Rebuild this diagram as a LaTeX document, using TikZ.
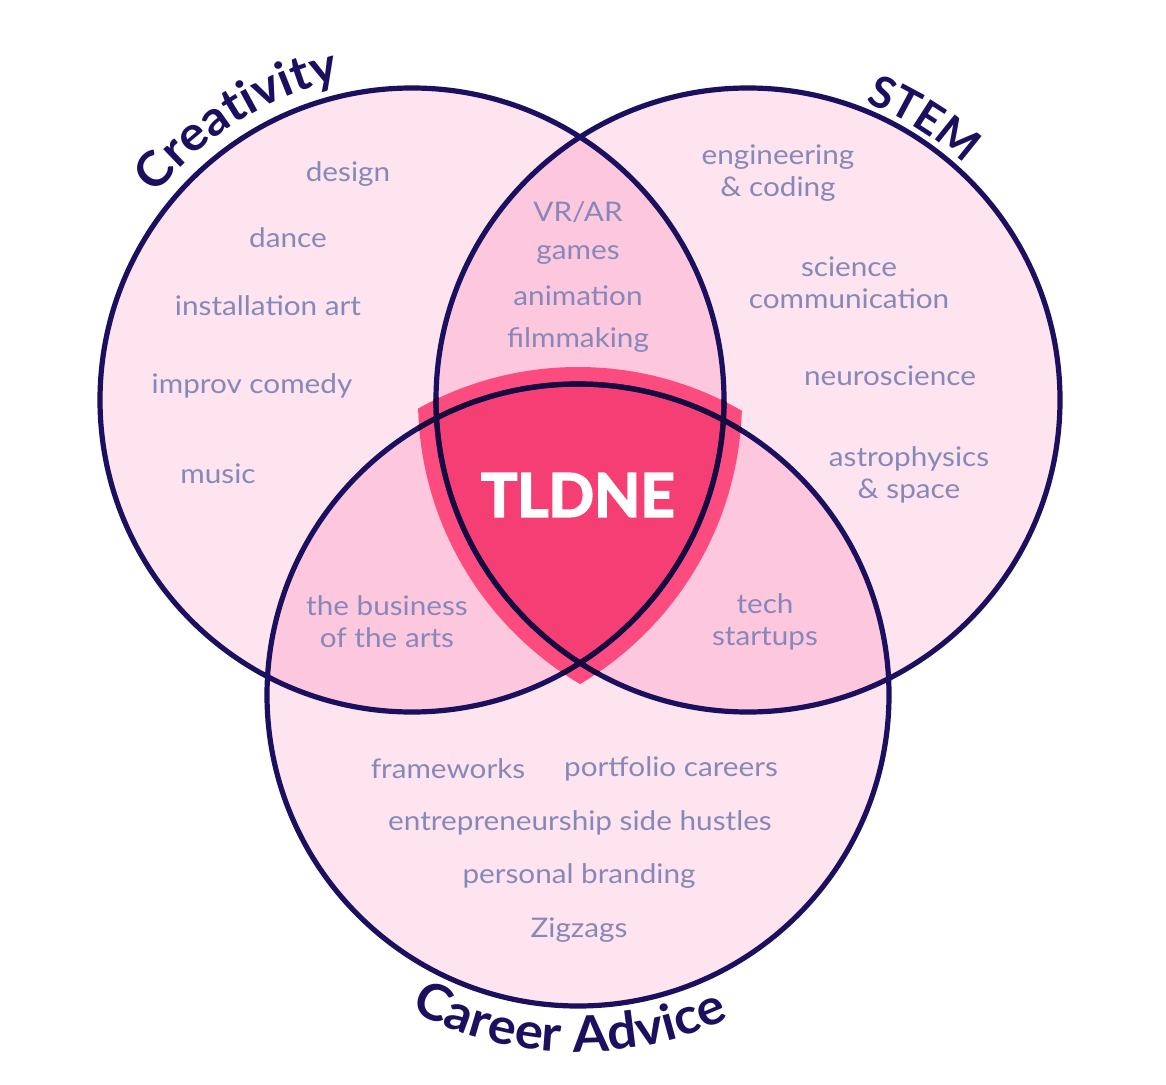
\documentclass[tikz,border=0pt]{standalone}
\usepackage{fontspec}
\setmainfont{Lato}
\newfontfamily\itemfam{Lato}[FakeStretch=1.1]
\newfontfamily\ttlfam{Lato}[FakeStretch=1.05]
\newfontfamily\heavyfam{Lato}[BoldFeatures={FakeBold=3}]
\usetikzlibrary{decorations.text}
\definecolor{navy}{HTML}{1B1060}
\definecolor{darknavy}{HTML}{160B40}
\definecolor{lightpink}{HTML}{FDE4EF}
\definecolor{midpink}{HTML}{FDC8DD}
\definecolor{bandred}{HTML}{FC4C7F}
\definecolor{innerred}{HTML}{F43E74}
\definecolor{itemcol}{HTML}{8788BA}
\newcommand{\itemfont}{\itemfam\fontsize{13.5}{16}\selectfont}
\newcommand{\ttlfont}{\ttlfam\fontsize{24}{28}\selectfont\bfseries}
\newcommand{\bigttlfont}{\ttlfam\fontsize{25}{28}\selectfont\bfseries}
\newcommand{\stemfont}{\fontsize{22}{26}\selectfont\bfseries}
\begin{document}
\begin{tikzpicture}[x=0.5pt,y=0.5pt,
  ring/.style={draw=navy,line width=2.6pt,circle,inner sep=0pt},
  item/.style={text=itemcol,font=\itemfont,inner sep=0pt,align=center},
  ttl/.style 2 args={decorate,decoration={text along path,text align=center,
     text={|\color{navy}#1|#2}}}]
\useasboundingbox (0,0) rectangle (1166,1084);
% base fills
\fill[lightpink] (412,684) circle (312);
\fill[lightpink] (748,684) circle (312);
\fill[lightpink] (578,389) circle (311);
% pairwise overlaps
\begin{scope}\clip (412,684) circle (312); \fill[midpink] (748,684) circle (312);\end{scope}
\begin{scope}\clip (412,684) circle (312); \fill[midpink] (578,389) circle (311);\end{scope}
\begin{scope}\clip (748,684) circle (312); \fill[midpink] (578,389) circle (311);\end{scope}
% red band
\begin{scope}\clip (412,684) circle (330); \clip (748,684) circle (330); \fill[bandred] (578,389) circle (328);\end{scope}
% triple overlap
\begin{scope}\clip (412,684) circle (312); \clip (748,684) circle (312); \fill[innerred] (578,389) circle (311);\end{scope}
% rings
\node[ring,minimum size=312pt] (creat) at (412,684) {};
\node[ring,minimum size=312pt] (stem) at (748,684) {};
\node[ring,minimum size=311pt] (career) at (578,389) {};
% darker ring parts over the red shield
\begin{scope}
\clip (412,684) circle (331); \clip (748,684) circle (331); \clip (578,389) circle (329);
\draw[darknavy,line width=2.6pt] (412,684) circle (312);
\draw[darknavy,line width=2.6pt] (748,684) circle (312);
\draw[darknavy,line width=2.6pt] (578,389) circle (311);
\end{scope}
% titles
\path[ttl={\ttlfont}{Creativity}] (412,684) ++(152:328) arc[start angle=152,end angle=92,radius=328];
\path[ttl={\stemfont}{STEM}] (748,684) ++(78:320) arc[start angle=78,end angle=38,radius=320];
\path[ttl={\bigttlfont}{Career Advice}] (578,389) ++(-126.5:357) arc[start angle=-126.5,end angle=-56.5,radius=357];
% items
\node[item] (design) at (348,910) {design};
\node[item] (dance) at (288,846) {dance};
\node[item] (inst) at (268,778) {installation art};
\node[item] (improv) at (252,698) {improv comedy};
\node[item] (music) at (218,610) {music};
\node[item] (vrar) at (578,872) {VR/AR};
\node[item] (games) at (578,829) {games};
\node[item] (anim) at (578,788) {animation};
\node[item] (film) at (578,744) {filmmaking};
\node[item] (eng) at (778,911) {engineering\\\& coding};
\node[item] (sci) at (849,801.5) {science\\communication};
\node[item] (neuro) at (890,708) {neuroscience};
\node[item] (astro) at (909,609) {astrophysics\\\& space};
\node[item] (bus) at (387,462.5) {the business\\of the arts};
\node[item] (tech) at (765,462.5) {tech\\startups};
\node[item] (frame) at (448,315) {frameworks};
\node[item] (port) at (671,315) {portfolio careers};
\node[item] (entre) at (580,261) {entrepreneurship side hustles};
\node[item] (brand) at (579,208) {personal branding};
\node[item] (zig) at (579,154) {Zigzags};
\node[text=white,font=\heavyfam\fontsize{30}{30}\selectfont\bfseries,inner sep=0pt] (tldne) at (578,589) {TLDNE};
\end{tikzpicture}
\end{document}
